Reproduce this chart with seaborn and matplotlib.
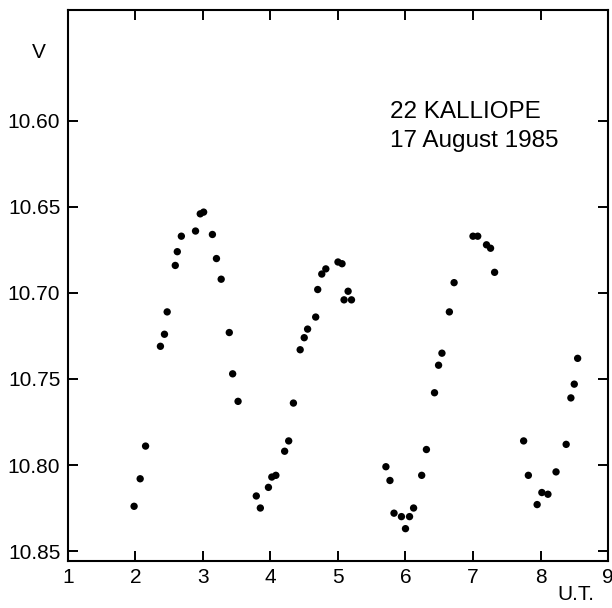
import numpy as np
import pandas as pd
import matplotlib
matplotlib.use("Agg")
import matplotlib.pyplot as plt
import seaborn as sns

# Lightcurve of 22 Kalliope, 17 Aug 1985
ut = [1.98, 2.07, 2.15, 2.37, 2.43, 2.47, 2.59, 2.62, 2.68, 2.89, 2.96, 3.01,
      3.14, 3.20, 3.27, 3.39, 3.44, 3.52,
      3.79, 3.85, 3.97, 4.02, 4.08, 4.21, 4.27, 4.34, 4.44, 4.50, 4.55, 4.67,
      4.70, 4.76, 4.82, 5.00, 5.06, 5.15, 5.09, 5.20,
      5.71, 5.77, 5.83, 5.94, 6.00, 6.06, 6.12, 6.24, 6.31, 6.43, 6.49, 6.54,
      6.65, 6.72, 7.00, 7.07, 7.20, 7.26, 7.32,
      7.75, 7.82, 7.95, 8.02, 8.11, 8.23, 8.38, 8.45, 8.50, 8.55]
vmag = [10.824, 10.808, 10.789, 10.731, 10.724, 10.711, 10.684, 10.676, 10.667,
        10.664, 10.654, 10.653, 10.666, 10.680, 10.692, 10.723, 10.747, 10.763,
        10.818, 10.825, 10.813, 10.807, 10.806, 10.792, 10.786, 10.764, 10.733,
        10.726, 10.721, 10.714, 10.698, 10.689, 10.686, 10.682, 10.683, 10.699,
        10.704, 10.704,
        10.801, 10.809, 10.828, 10.830, 10.837, 10.830, 10.825, 10.806, 10.791,
        10.758, 10.742, 10.735, 10.711, 10.694, 10.667, 10.667, 10.672, 10.674,
        10.688,
        10.786, 10.806, 10.823, 10.816, 10.817, 10.804, 10.788, 10.761, 10.753,
        10.738]

x_ticks = [1, 2, 3, 4, 5, 6, 7, 8, 9]
y_ticks = [10.60, 10.65, 10.70, 10.75, 10.80, 10.85]
y_labels = ["10.60", "10.65", "10.70", "10.75", "10.80", "10.85"]

df = pd.DataFrame({"UT": ut, "V": vmag})

sns.set_theme(style="ticks")
plt.rcParams["font.family"] = ["Liberation Sans", "DejaVu Sans"]
plt.rcParams["text.color"] = "black"
plt.rcParams["xtick.color"] = "black"
plt.rcParams["ytick.color"] = "black"

fig = plt.figure(figsize=(6.12, 6.08), dpi=100)
ax = fig.add_axes([0.111, 0.0773, 0.8825, 0.9063])

sns.scatterplot(data=df, x="UT", y="V", color="black", edgecolor="none",
                s=28, ax=ax, legend=False)

ax.set_xlim(1, 9)
ax.set_ylim(10.8558, 10.5355)
ax.set_xticks(x_ticks)
ax.set_yticks(y_ticks)
ax.set_yticklabels(y_labels)
ax.set_xlabel("")
ax.set_ylabel("")

ax.tick_params(direction="in", length=7.5, width=1.4, labelsize=15,
               top=True, right=True, labeltop=False, labelright=False,
               colors="black")
ax.tick_params(axis="x", pad=5)
ax.tick_params(axis="y", pad=5.5)
for sp in ax.spines.values():
    sp.set_visible(True)
    sp.set_linewidth(1.5)
    sp.set_color("black")

# hide edge ticks at x=1 and x=9 (they sit on the spines)
for t in ax.xaxis.get_major_ticks():
    if t.get_loc() in (1, 9):
        t.tick1line.set_visible(False)
        t.tick2line.set_visible(False)

fig.text(39 / 612, 1 - 53 / 608, "V", fontsize=15, ha="center", va="center")
fig.text(576 / 612, 1 - 595 / 608, "U.T.", fontsize=15, ha="center", va="center")
ax.text(390 / 612, 1 - 112 / 608, "22 KALLIOPE", transform=fig.transFigure,
        fontsize=17.5, ha="left", va="center")
ax.text(390 / 612, 1 - 141 / 608, "17 August 1985", transform=fig.transFigure,
        fontsize=17.5, ha="left", va="center")

fig.savefig("out.png", dpi=100)
